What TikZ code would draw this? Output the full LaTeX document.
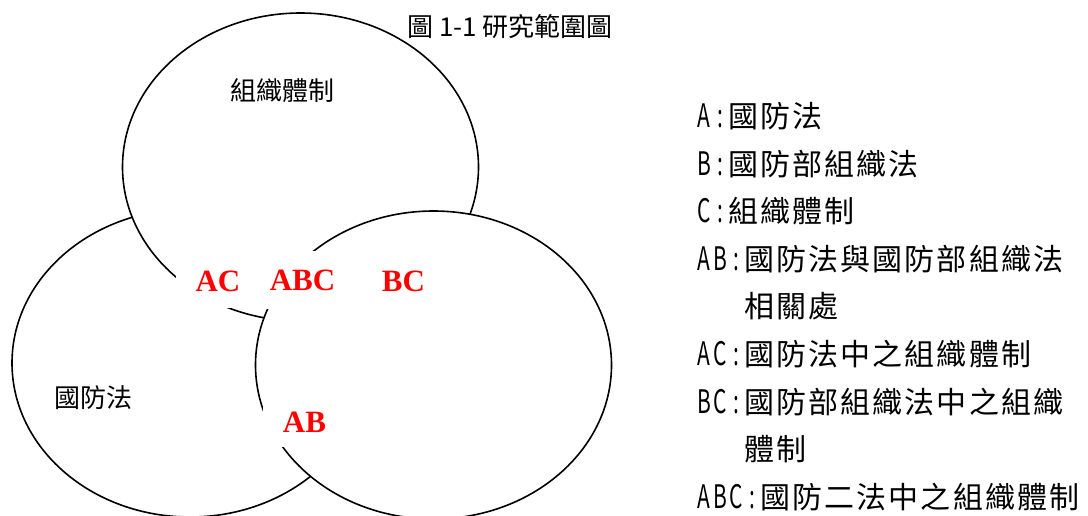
\documentclass[tikz,border=0pt]{standalone}
\usepackage{fontspec}
\usepackage{graphicx}
\newfontfamily\cjk{Noto Sans CJK TC}
\newfontfamily\cjkls[LetterSpace=7]{Noto Sans CJK TC}
\newfontfamily\tnr{Liberation Serif}
\newcommand\hw[1]{\makebox[16.05pt][c]{{\cjk\scalebox{0.7}[1.08]{#1}}}}
\begin{document}
\begin{tikzpicture}[x=1pt,y=-1pt,
  venn/.style={draw=black, line width=1.6pt, fill=white},
  redlabel/.style={fill=white, inner sep=0pt, text=red,
    font=\tnr\bfseries\fontsize{31}{31}\selectfont,
    minimum width=84pt, minimum height=53pt},
  diagtext/.style={inner sep=0pt, font=\cjk\fontsize{26}{26}\selectfont},
  legendline/.style={inner sep=0pt, anchor=base west,
    font=\cjkls\fontsize{30}{30}\selectfont}]
\useasboundingbox (0,0) rectangle (1088,515);
% circles: A (bottom layer), C, B (top layer)
\draw[venn] (190,363) ellipse [x radius=178pt, y radius=154pt];
\draw[venn] (300.5,167) ellipse [x radius=178pt, y radius=154pt];
\draw[venn] (433.5,365) ellipse [x radius=178pt, y radius=154pt];
% region labels
\node[redlabel] (ac) at (218,281.5) {AC};
\node[redlabel, minimum height=58pt] (abc) at (302.5,280) {ABC};
\node[redlabel] (bc) at (403.5,281.5) {BC};
\node[redlabel, minimum width=83pt, minimum height=50pt] (ab) at (304.5,422) {AB};
% set names
\node[diagtext] (cname) at (282,91) {組織體制};
\node[diagtext] (aname) at (93.5,398) {國防法};
\node[diagtext] (title) at (510,26.5) {圖 1-1 研究範圍圖};
% legend
\node[legendline] (l1) at (696,127.5) {\hw{A}\hw{:}國防法};
\node[legendline] (l2) at (696,175.1) {\hw{B}\hw{:}國防部組織法};
\node[legendline] (l3) at (696,222.7) {\hw{C}\hw{:}組織體制};
\node[legendline] (l4) at (696,270.3) {\hw{A}\hw{B}\hw{:}國防法與國防部組織法};
\node[legendline] (l5) at (744.2,317.9) {相關處};
\node[legendline] (l6) at (696,365.5) {\hw{A}\hw{C}\hw{:}國防法中之組織體制};
\node[legendline] (l7) at (696,413.1) {\hw{B}\hw{C}\hw{:}國防部組織法中之組織};
\node[legendline] (l8) at (744.2,460.7) {體制};
\node[legendline] (l9) at (696,508.3) {\hw{A}\hw{B}\hw{C}\hw{:}國防二法中之組織體制};
\end{tikzpicture}
\end{document}
